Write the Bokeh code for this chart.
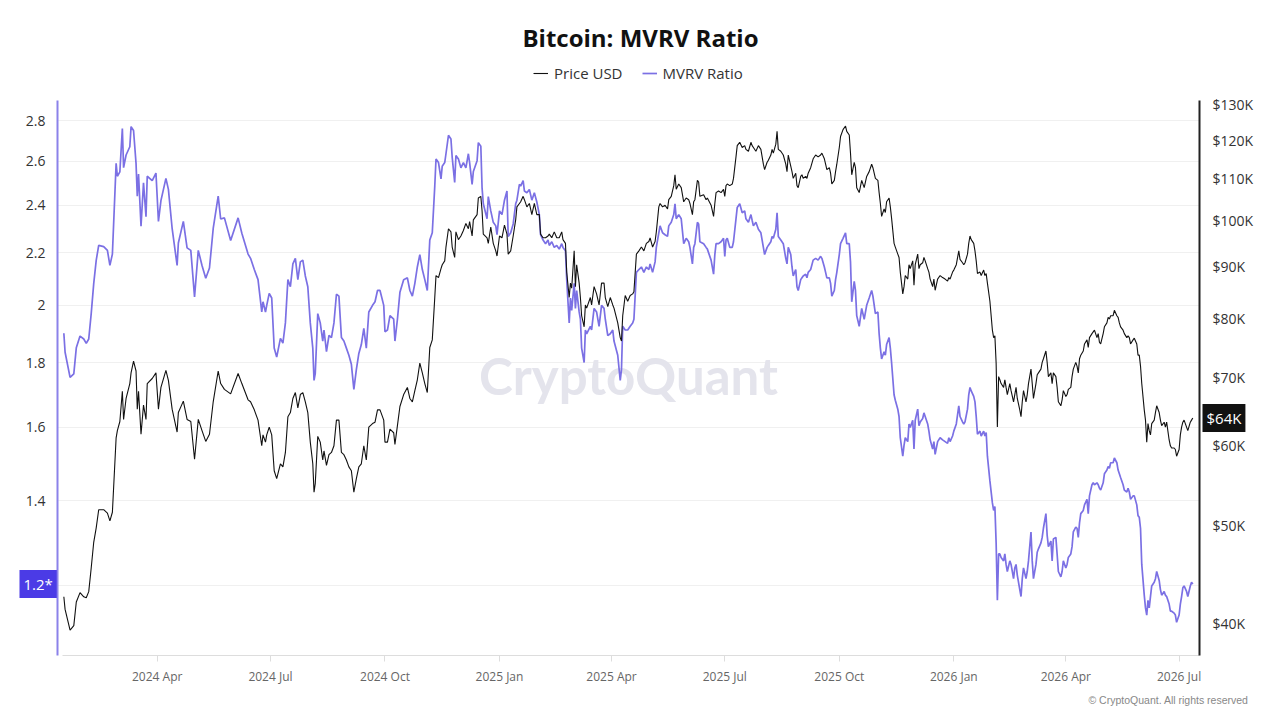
import pandas as pd
from bokeh.plotting import figure
from bokeh.models import (Range1d, LogScale, LogAxis, DatetimeAxis, FixedTicker, CustomJSTickFormatter,
                          DatetimeTickFormatter, Label, Legend, LegendItem, ColumnDataSource)
from bokeh.embed import file_html
from bokeh.resources import INLINE

# ---------------- data ----------------
start_date = "2024-01-17"
day = [0, 1, 5, 8, 10, 13, 16, 18, 20, 22, 24, 26, 28, 32, 35, 37, 39, 42, 43, 45, 47, 48, 50, 53, 54, 56, 58, 59, 60, 62,
       64, 66, 67, 71, 74, 76, 78, 82, 84, 87, 91, 92, 96, 99, 102, 105, 108, 111, 114, 117, 120, 124, 126, 129, 134, 140, 143, 148,
       150, 153, 156, 159, 160, 162, 163, 165, 167, 169, 171, 174, 176, 178, 180, 182, 184, 186, 188, 190, 192, 194, 196, 198,
       200, 201, 202, 204, 206, 208, 209, 211, 213, 215, 217, 219, 221, 223, 225, 227, 229, 231, 233, 235, 237, 239, 241, 243,
       245, 248, 250, 252, 254, 257, 258, 260, 262, 265, 266, 268, 270, 273, 276, 278, 280, 282, 284, 286, 288, 290, 292, 294,
       296, 298, 299, 301, 303, 304, 306, 307, 309, 311, 312, 314,
       315, 317, 319, 321, 323, 325, 326, 328, 329, 332, 333, 335, 336, 337, 340, 341, 343, 345, 347, 348, 350, 352, 354, 356,
       357, 359, 361, 363, 364, 366, 367, 369, 370, 372, 374, 376, 378, 380, 382, 383, 385, 387, 389, 390, 392, 394, 396, 398,
       400, 401, 403, 404, 406, 407, 408, 410, 411, 412, 414, 415, 416, 418, 419, 420, 423, 424, 426, 428, 430, 432, 434, 435,
       437, 439, 441, 442, 445, 447, 448, 449, 451, 453, 455, 457, 458, 460, 462, 464, 466, 468, 470, 471, 473, 475, 476, 478, 479,
       481, 483, 485, 486, 488, 490, 491, 492, 494, 496, 498, 500, 502, 503, 505, 506, 507, 509, 510, 511, 514, 516, 517, 520,
       522, 523, 524, 526, 528, 530, 531, 532, 533, 535, 537, 538, 540, 541, 543, 545, 547, 548, 550, 552, 553, 554, 556, 558,
       560, 562, 563, 565, 566, 568, 569, 570, 572, 573, 574, 576, 578, 580, 581, 582, 584, 585, 586, 588, 589, 590, 592, 593,
       594, 596, 597, 598, 600, 602, 604, 606, 608, 609, 611, 612, 613, 615, 616, 617, 619, 620, 621, 623, 624, 626, 628, 629,
       631, 632, 633, 635, 636, 637, 639,
       641, 643, 645, 647, 649, 650, 652, 654, 655, 656, 657, 659, 660, 661, 663, 664, 665, 667, 668, 670, 671, 672, 674, 675,
       676, 678, 679, 680, 682, 683, 684, 686, 687, 688, 690, 691, 692, 694, 695, 696, 698, 699, 700, 702, 704, 706, 708, 710,
       711, 712, 714, 715, 717, 719, 720, 722, 723, 724, 726, 727, 728, 729, 731, 732, 733, 734, 736, 737, 739, 740, 741, 742,
       744, 746, 747, 748, 749, 750, 751, 752, 753, 755, 756, 757, 758, 760, 761, 763, 764, 765, 766, 768, 769, 770, 771, 773,
       774, 775, 777, 778, 779, 781, 782, 783, 785, 786, 787, 789, 790, 791, 793, 794, 795, 797, 798, 799,
       801, 802, 803, 805, 806, 807, 809, 810, 811, 813, 814, 815, 816, 817, 819, 820, 822, 823, 824, 826, 827, 828, 830, 831,
       832, 833, 835, 836, 838, 839, 840, 841, 843, 844, 846, 847, 848, 849, 851, 852, 854, 855, 856, 857, 859, 860, 862, 863,
       864, 865, 866, 868, 869, 870, 871, 872, 873, 874, 876, 877, 878, 880, 881, 882, 884, 885, 886, 888, 889, 890, 892, 893,
       894, 896, 897, 898, 899, 900, 902, 903, 905, 906, 907]

price_k = [42.5, 41.3, 39.4, 39.8, 42.0, 42.9, 42.5, 42.4, 43.0, 45.4, 48.1, 49.7, 51.8, 51.8, 51.4, 50.5, 51.5, 61.0, 62.0, 63.3,
           67.8, 63.6, 66.7, 69.0, 70.7, 72.6, 71.0, 65.1, 67.8, 61.5, 65.7, 63.6, 69.0, 69.8, 70.7, 65.1, 68.4, 71.1, 69.5, 65.1,
           61.8, 64.6, 66.3, 63.6, 63.3, 58.1, 63.6, 62.0, 60.5, 61.5, 66.2, 71.0, 69.0, 68.1, 67.4, 70.6, 69.0, 66.5,
           66.2, 65.0, 63.5, 59.9, 61.4, 60.4, 61.4, 62.5, 61.4, 56.6, 55.6, 57.5, 57.1, 59.0, 64.0, 64.6, 66.7, 67.6, 65.3, 67.3,
           67.6, 66.2, 64.6, 60.4, 57.5, 53.9, 55.0, 61.2, 60.4, 58.0, 59.2, 57.3, 58.7, 59.0, 59.9, 63.5, 63.5, 59.0, 58.7, 58.0,
           57.1, 56.6, 53.9, 55.6, 57.1, 57.5, 59.9, 58.0, 62.5, 63.0, 63.2, 65.0, 65.0, 63.5, 60.4, 60.4, 62.2, 61.7, 60.1, 62.7,
           65.5, 67.3, 68.4, 66.7, 66.2, 67.9, 69.6, 72.3, 70.7, 69.0, 67.6, 74.9, 76.2, 83.9, 88.2, 87.8, 89.6, 90.4, 91.2, 94.1,
           98.1, 97.4, 94.1, 91.9,
           97.4, 95.7, 96.5, 97.7, 99.3, 98.1, 99.7, 96.5, 100.1, 101.3, 105.2, 105.6, 102.2, 96.9, 96.1, 94.9, 98.5, 94.9, 93.3,
           92.2, 96.5, 96.1, 98.9, 96.9, 92.6, 93.3, 96.5, 100.1, 103.1, 103.9, 104.3, 105.6, 104.8, 103.1, 103.9, 101.3, 103.9,
           101.3, 101.3, 96.9, 96.1, 96.1, 96.5, 96.9, 96.1, 97.4, 96.1, 96.1, 97.4, 95.7, 94.9, 88.9, 83.9, 86.7, 85.7, 93.3, 86.0,
           90.4, 86.7, 83.9, 80.5, 78.5, 82.5, 81.9, 83.9, 82.5, 86.0, 84.6, 82.5, 86.7, 86.7, 83.9, 82.2, 83.9, 82.5, 81.9, 79.2,
           76.6, 76.0, 80.5, 84.3, 83.2, 84.3, 84.6, 85.0, 92.6, 93.3, 94.1, 93.3, 94.9, 95.3, 96.1, 94.1, 95.3, 97.4, 103.1, 103.9,
           103.1, 103.5, 102.6, 104.8, 105.6, 108.2, 110.9, 107.3, 108.6, 107.7, 104.3, 105.2, 104.8, 103.9, 101.3, 104.3, 104.8,
           109.5, 109.1, 105.6, 106.0, 104.8, 105.2, 103.5, 100.9, 103.9, 106.5, 106.9, 106.5, 107.3, 105.6, 108.2, 108.6, 108.2,
           108.6, 110.0, 115.5, 118.5, 119.4, 118.0, 118.5, 117.5, 117.0, 119.4, 118.5, 118.0, 117.0, 118.5, 117.5, 113.6, 112.2,
           114.1, 114.6, 116.0, 117.5, 116.5, 118.9, 122.4, 117.5, 117.0, 116.0, 113.6, 111.7, 116.0, 113.1, 111.7, 110.0, 111.3,
           108.2, 107.7, 110.5, 110.9, 110.0, 110.5, 110.0, 111.3, 112.7, 115.0, 116.0, 115.5, 116.0, 116.5, 115.0, 113.6, 112.2,
           112.7, 111.3, 108.6, 109.5, 111.7, 113.6, 118.0, 121.0, 122.9, 123.9, 122.4, 121.4, 116.5, 110.9, 114.1, 112.7, 107.7,
           106.5,
           109.5, 107.7, 110.5, 111.7, 113.6, 112.7, 110.0, 109.5, 106.5, 103.9, 100.9, 102.6, 101.8, 104.3, 105.2, 103.1, 100.5,
           94.9, 94.1, 92.6, 91.9, 88.9, 84.6, 86.0, 88.2, 87.5, 90.4, 89.6, 91.2, 86.3, 90.4, 92.6, 89.6, 90.4, 90.8, 91.9, 91.2,
           89.6, 88.9, 87.5, 86.0, 87.5, 85.3, 87.5, 88.2, 87.8, 87.5, 87.1, 87.8, 87.5, 88.9, 89.3, 90.4, 93.3, 91.5, 90.8, 90.4,
           90.8, 92.6, 94.9, 96.5, 95.7, 94.9, 93.3, 91.2, 88.6, 88.9, 88.2, 89.3, 88.2, 88.6, 86.7, 83.2, 77.9, 76.6, 76.9, 72.3,
           62.5, 70.1, 69.6, 69.0, 68.4, 69.6, 68.4, 67.3, 69.0, 67.9, 66.2, 67.3, 68.4, 66.7, 65.0, 64.0, 66.2, 67.9, 66.2, 67.3,
           69.0, 71.3, 69.0, 66.7, 69.0, 70.4, 70.7, 71.3, 72.4, 73.0, 74.3, 72.4, 70.1, 70.7, 69.0, 70.7, 70.1, 68.4, 66.2,
           65.6, 66.5, 67.9, 67.0, 67.3, 68.1, 68.4, 70.1, 71.3, 72.4, 71.8, 70.7, 73.0, 73.6, 74.3, 75.5, 76.2, 74.9, 76.6, 77.3,
           77.6, 77.9, 76.6, 77.3, 75.8, 75.5, 77.3, 78.5, 79.2, 80.2, 79.9, 80.5, 80.5, 81.5, 80.5, 80.2, 79.2, 78.5, 77.9, 77.3,
           76.6, 76.9, 76.6, 75.5, 76.2, 76.5, 75.5, 73.6, 73.6, 71.8, 69.0, 65.0, 63.5, 60.4, 63.0, 62.0, 61.4, 63.0, 63.5, 64.6,
           65.6, 64.6, 63.5, 62.7, 63.2, 62.5, 63.2, 60.7, 59.9, 59.6, 59.6, 59.4, 58.5, 59.4, 61.4, 62.5, 63.2, 63.5, 62.5, 62.0,
           63.2, 63.5, 63.8]

mvrv = [1.90, 1.835, 1.753, 1.764, 1.85, 1.89, 1.88, 1.865, 1.88, 1.97, 2.08, 2.17, 2.23, 2.225, 2.21, 2.15, 2.195, 2.59, 2.53,
        2.55, 2.76, 2.57, 2.63, 2.67, 2.77, 2.75, 2.59, 2.44, 2.54, 2.31, 2.50, 2.35, 2.53, 2.51, 2.545, 2.33, 2.42, 2.52, 2.47,
        2.30, 2.15, 2.24, 2.33, 2.22, 2.21, 2.03, 2.21, 2.15, 2.10, 2.14, 2.30, 2.44, 2.34, 2.345, 2.25, 2.345, 2.28, 2.195,
        2.178, 2.134, 2.095, 1.975, 2.012, 1.975, 1.999, 2.043, 2.026, 1.849, 1.819, 1.882, 1.866, 1.936, 2.095, 2.068, 2.156,
        2.178, 2.095, 2.164, 2.171, 2.109, 2.068, 1.936, 1.849, 1.743, 1.766, 1.969, 1.936, 1.873, 1.911, 1.837, 1.892, 1.885,
        1.936, 2.040, 2.033, 1.885, 1.873, 1.849, 1.825, 1.795, 1.715, 1.778, 1.831, 1.861, 1.917, 1.849, 1.975, 1.999, 2.012,
        2.054, 2.054, 1.999, 1.905, 1.911, 1.962, 1.949, 1.873, 1.949, 2.047, 2.095, 2.102, 2.054, 2.033, 2.081, 2.144, 2.193,
        2.134, 2.095, 2.054, 2.252, 2.282, 2.485, 2.611, 2.594, 2.518, 2.577, 2.594, 2.636, 2.726, 2.708, 2.619, 2.502,
        2.628, 2.611, 2.569, 2.594, 2.569, 2.636, 2.594, 2.493, 2.552, 2.603, 2.690, 2.672, 2.477, 2.406, 2.341, 2.438, 2.375,
        2.326, 2.311, 2.274, 2.375, 2.359, 2.422, 2.463, 2.267, 2.282, 2.319, 2.406, 2.422, 2.493, 2.485, 2.510, 2.463, 2.455,
        2.470, 2.422, 2.455, 2.414, 2.359, 2.274, 2.252, 2.237, 2.252, 2.230, 2.245, 2.222, 2.230, 2.215, 2.237, 2.222, 2.208,
        2.095, 1.936, 2.026, 1.981, 2.081, 1.988, 2.054, 1.975, 1.949, 1.849, 1.801, 1.911, 1.898, 1.924, 1.911, 1.988, 1.975,
        1.924, 1.999, 1.988, 1.949, 1.892, 1.898, 1.911, 1.873, 1.825, 1.743, 1.778, 1.924, 1.911, 1.911, 1.924, 1.936, 1.949,
        2.123, 2.134, 2.144, 2.123, 2.144, 2.134, 2.156, 2.123, 2.164, 2.222, 2.282, 2.311,
        2.282, 2.274, 2.267, 2.311, 2.326, 2.359, 2.406, 2.341, 2.359, 2.341, 2.237, 2.259, 2.245, 2.222, 2.156, 2.222, 2.237,
        2.326, 2.319, 2.245, 2.237, 2.222, 2.215, 2.171, 2.116, 2.193, 2.237, 2.237, 2.245, 2.259, 2.186, 2.252, 2.259, 2.222,
        2.222, 2.245, 2.341, 2.390, 2.406, 2.367, 2.375, 2.341, 2.326, 2.359, 2.334, 2.311, 2.326, 2.297, 2.282, 2.222, 2.193,
        2.222, 2.230, 2.245, 2.267, 2.259, 2.297, 2.367, 2.267, 2.252, 2.237, 2.178, 2.156, 2.222, 2.193, 2.144, 2.109, 2.134,
        2.068, 2.054, 2.095, 2.102, 2.109, 2.116, 2.102, 2.123, 2.134, 2.171, 2.178, 2.171, 2.186, 2.178, 2.144, 2.123, 2.102,
        2.102, 2.081, 2.033, 2.054, 2.095, 2.123, 2.193, 2.237, 2.259, 2.282, 2.237, 2.237, 2.164, 2.012, 2.088, 2.054, 1.962,
        1.924,
        1.988, 1.949, 1.999, 2.026, 2.054, 2.033, 1.969, 1.975, 1.898, 1.849, 1.813, 1.837, 1.825, 1.861, 1.885, 1.849, 1.801,
        1.698, 1.681, 1.654, 1.632, 1.570, 1.518, 1.548, 1.570, 1.559, 1.610, 1.600, 1.621, 1.538, 1.621, 1.654, 1.605, 1.616,
        1.626, 1.643, 1.632, 1.610, 1.589, 1.564, 1.538, 1.559, 1.523, 1.559, 1.570, 1.564, 1.559, 1.554, 1.570, 1.559, 1.575,
        1.589, 1.610, 1.664, 1.632, 1.616, 1.610, 1.616, 1.654, 1.698, 1.721, 1.710, 1.693, 1.676, 1.632, 1.580, 1.589, 1.575,
        1.589, 1.575, 1.585, 1.518, 1.451, 1.394, 1.375, 1.385, 1.296, 1.167, 1.270, 1.270, 1.262, 1.254, 1.270, 1.246, 1.230,
        1.254, 1.246, 1.214, 1.238, 1.246, 1.222, 1.190, 1.175, 1.214, 1.238, 1.214, 1.230, 1.254, 1.322, 1.254, 1.214, 1.246,
        1.274, 1.282, 1.296, 1.309, 1.331, 1.367, 1.314, 1.287, 1.300, 1.254, 1.305, 1.309, 1.270, 1.230,
        1.218, 1.230, 1.254, 1.238, 1.246, 1.262, 1.270, 1.287, 1.322, 1.334, 1.331, 1.309, 1.344, 1.367, 1.375, 1.389, 1.403,
        1.367, 1.412, 1.441, 1.446, 1.441, 1.446, 1.441, 1.432, 1.427, 1.446, 1.470, 1.480, 1.490, 1.485, 1.500, 1.500, 1.513,
        1.500, 1.480, 1.470, 1.460, 1.441, 1.427, 1.422, 1.432, 1.422, 1.403, 1.412, 1.412, 1.389, 1.362, 1.358, 1.331, 1.246,
        1.178, 1.151, 1.136, 1.167, 1.151, 1.175, 1.198, 1.206, 1.214, 1.230, 1.210, 1.190, 1.178, 1.186, 1.178, 1.175, 1.159,
        1.144, 1.144, 1.140, 1.136, 1.121, 1.136, 1.159, 1.175, 1.194, 1.198, 1.186, 1.175, 1.198, 1.206, 1.202]

mvrv_ticks = [1.4, 1.6, 1.8, 2.0, 2.2, 2.4, 2.6, 2.8]
grid_ticks = [1.2, 1.4, 1.6, 1.8, 2.0, 2.2, 2.4, 2.6, 2.8]
price_ticks = [40, 50, 60, 70, 80, 90, 100, 110, 120, 130]
date_ticks = ["2024-04-01", "2024-07-01", "2024-10-01", "2025-01-01", "2025-04-01",
              "2025-07-01", "2025-10-01", "2026-01-01", "2026-04-01", "2026-07-01"]

# ---------------- layout geometry (canvas pixels) ----------------
W, H = 1280, 720
PLOT_L, PLOT_R, PLOT_T, PLOT_B = 57, 1199, 100, 655
T0, T1 = pd.Timestamp("2024-04-01").value / 1e6, pd.Timestamp("2026-07-01").value / 1e6
PX0, PX1 = 156.7, 1178.6
MS_PER_PX = (T1 - T0) / (PX1 - PX0)


def px_to_ms(px):
    return T0 + (px - PX0) * MS_PER_PX


MVRV_LO, MVRV_HI = 1.0552, 2.905
PRICE_LO, PRICE_HI = 37.19, 131.3


def extend_log(lo, hi, top_px, bot_px):
    import math
    k = (math.log(hi) - math.log(lo)) / (bot_px - top_px)
    return math.exp(math.log(lo) - k * (H - bot_px)), math.exp(math.log(hi) + k * top_px)


mv_full = extend_log(MVRV_LO, MVRV_HI, PLOT_T, PLOT_B)
pr_full = extend_log(PRICE_LO, PRICE_HI, PLOT_T, PLOT_B)

# ---------------- build ----------------
dates = pd.Timestamp(start_date) + pd.to_timedelta(day, unit="D")
src = ColumnDataSource(dict(date=dates, price=price_k, mvrv=mvrv))

FONT = "Open Sans"
PURPLE = "#7b70e4"

p = figure(width=W, height=H, x_axis_type=None, y_axis_type="log", title=None,
           x_range=Range1d(px_to_ms(0), px_to_ms(W)), y_range=Range1d(*mv_full),
           output_backend="svg", toolbar_location=None,
           min_border_left=0, min_border_right=0, min_border_top=0, min_border_bottom=0)
p.extra_y_ranges = {"price": Range1d(*pr_full)}
p.extra_y_scales = {"price": LogScale()}
p.outline_line_color = None
p.background_fill_color = "white"
p.border_fill_color = "white"

# grid: horizontal lines only across plot area
p.ygrid.ticker = FixedTicker(ticks=grid_ticks)
p.ygrid.grid_line_color = "#f0f0f0"
p.ygrid.minor_grid_line_color = None
if "cross_bounds" in p.ygrid[0].properties():
    p.ygrid.cross_bounds = (px_to_ms(PLOT_L), px_to_ms(PLOT_R))
    p.ygrid.bounds = (MVRV_LO, MVRV_HI)
else:
    p.ygrid.visible = False
    p.segment(x0=[px_to_ms(PLOT_L)] * len(grid_ticks), x1=[px_to_ms(PLOT_R)] * len(grid_ticks),
              y0=grid_ticks, y1=grid_ticks, line_color="#f0f0f0", line_width=1, level="underlay")

# left axis (MVRV)
ly = p.yaxis[0]
ly.fixed_location = px_to_ms(PLOT_L)
ly.bounds = (MVRV_LO, MVRV_HI)
ly.ticker = FixedTicker(ticks=mvrv_ticks)
ly.formatter = CustomJSTickFormatter(code="return String(Math.round(tick*10)/10)")
ly.axis_line_color = "#8b82ea"
ly.axis_line_width = 2
ly.major_tick_line_color = None
ly.major_tick_out = 0
ly.major_tick_in = 0
ly.minor_tick_line_color = None
ly.major_label_standoff = 12
ly.major_label_text_font = FONT
ly.major_label_text_font_size = "14px"
ly.major_label_text_color = "#333333"

# right axis (price)
ry = LogAxis(y_range_name="price", ticker=FixedTicker(ticks=price_ticks),
             formatter=CustomJSTickFormatter(code="return '$' + tick + 'K'"))
ry.fixed_location = px_to_ms(PLOT_R)
ry.bounds = (PRICE_LO, PRICE_HI)
ry.axis_line_color = "#222222"
ry.axis_line_width = 2
ry.major_tick_line_color = None
ry.major_tick_out = 0
ry.major_tick_in = 0
ry.minor_tick_line_color = None
ry.major_label_standoff = 13
ry.major_label_text_font = FONT
ry.major_label_text_font_size = "14px"
ry.major_label_text_color = "#333333"
p.add_layout(ry, "right")

# bottom axis
xa = DatetimeAxis(ticker=FixedTicker(ticks=[pd.Timestamp(d).value / 1e6 for d in date_ticks]),
                  formatter=DatetimeTickFormatter(days="%Y %b", months="%Y %b", years="%Y %b", hours="%Y %b"))
xa.fixed_location = MVRV_LO
xa.bounds = (px_to_ms(62), px_to_ms(PLOT_R))
xa.axis_line_color = "#dddddd"
xa.major_tick_line_color = "#dddddd"
xa.major_tick_out = 6
xa.major_tick_in = 0
xa.minor_tick_line_color = None
xa.major_label_standoff = 6
xa.major_label_text_font = FONT
xa.major_label_text_font_size = "12px"
xa.major_label_text_color = "#666666"
p.add_layout(xa, "below")

# watermark
p.add_layout(Label(x=628, y=H - 375, x_units="screen", y_units="screen", text="CryptoQuant",
                   text_align="center", text_baseline="middle", text_font="Lato", text_font_style="bold",
                   text_font_size="51px", text_color="#e4e4ec", level="underlay"))

# lines
r_mvrv = p.line(x="date", y="mvrv", source=src, line_color=PURPLE, line_width=1.7)
r_price = p.line(x="date", y="price", source=src, y_range_name="price", line_color="#111111", line_width=1.1)

# title
p.add_layout(Label(x=640, y=H - 37, x_units="screen", y_units="screen", text="Bitcoin: MVRV Ratio",
                   text_align="center", text_baseline="middle", text_font=FONT, text_font_style="bold",
                   text_font_size="24px", text_color="#111111"))

# legend
legend = Legend(items=[LegendItem(label="Price USD", renderers=[r_price]),
                       LegendItem(label="MVRV Ratio", renderers=[r_mvrv])],
                orientation="horizontal", location=(533, H - 83),
                border_line_color=None, background_fill_alpha=0,
                label_text_font=FONT, label_text_font_size="15px", label_text_color="#333333",
                glyph_width=15, glyph_height=20, label_standoff=6, spacing=19, padding=0, margin=0)
p.add_layout(legend)

# last-value tags
p.add_layout(Label(x=1202, y=price_k[-1], x_units="screen", y_range_name="price",
                   text="$%dK" % round(price_k[-1]), text_align="left", text_baseline="middle",
                   text_font=FONT, text_font_size="15px", text_color="white",
                   background_fill_color="#111111", padding=4))
p.add_layout(Label(x=19, y=mvrv[-1], x_units="screen",
                   text="%.1f*" % mvrv[-1], text_align="left", text_baseline="middle",
                   text_font=FONT, text_font_size="15px", text_color="white",
                   background_fill_color="#4b3be6", padding=4))

# footer
p.add_layout(Label(x=1248, y=H - 699, x_units="screen", y_units="screen",
                   text="\u00a9 CryptoQuant. All rights reserved", text_align="right", text_baseline="middle",
                   text_font="Liberation Sans", text_font_size="10.5px", text_color="#888888"))

open("out.html", "w").write(file_html(p, INLINE))
